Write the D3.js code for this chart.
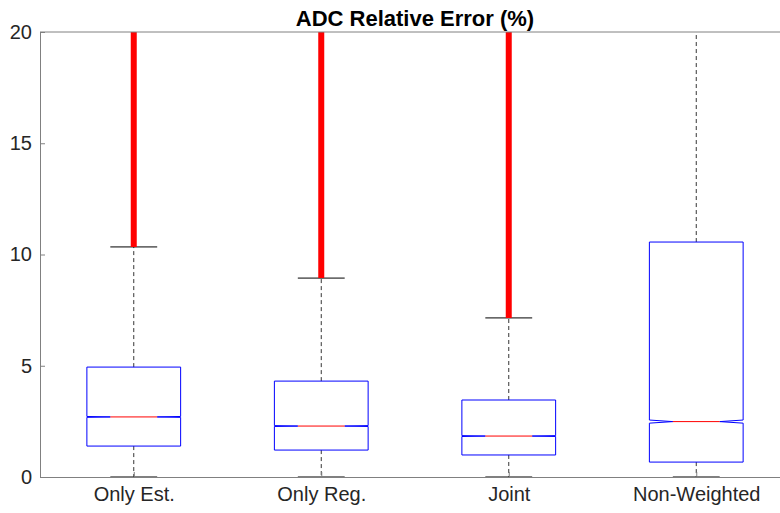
<!DOCTYPE html>
<html>
<head>
<meta charset="utf-8">
<script src="https://cdn.jsdelivr.net/npm/d3@7"></script>
<style>
  body { margin: 0; background: #fff; }
  svg { display: block; font-family: "Liberation Sans", Arial, sans-serif; }
</style>
</head>
<body>
<svg id="chart" width="780" height="513"></svg>
<script>
// categories and box statistics
const categories = ["Only Est.", "Only Reg.", "Joint", "Non-Weighted"];
const q1 = [1.39, 1.21, 0.99, 0.67];
const medians = [2.70, 2.29, 1.84, 2.49];
const q3 = [4.94, 4.31, 3.46, 10.56];
const whiskerLow = [0, 0, 0, 0];
const whiskerHigh = [10.34, 8.94, 7.15, 24];
const notchHalf = [0.02, 0.02, 0.02, 0.07];
// outliers are so dense they merge into a solid band: [from, to]
const outlierFrom = [10.34, 8.94, 7.15, null];
const outlierTo = [25, 25, 25, null];
const yTicks = [0, 5, 10, 15, 20];

const svg = d3.select("#chart");
const mLeft = 40, mRight = 790, mTop = 32, mBottom = 477;

const x = d3.scaleLinear().domain([0.5, 4.5]).range([mLeft, mRight]);
const y = d3.scaleLinear().domain([0, 20]).range([mBottom, mTop]);

// clip for plot contents
svg.append("defs").append("clipPath").attr("id", "clip")
  .append("rect").attr("x", mLeft).attr("y", mTop)
  .attr("width", mRight - mLeft).attr("height", mBottom - mTop);

const plot = svg.append("g").attr("clip-path", "url(#clip)");

const boxW = 0.5;
const data = categories.map((c, i) => ({
  c, i, pos: i + 1,
  q1: q1[i], med: medians[i], q3: q3[i],
  lo: whiskerLow[i], hi: whiskerHigh[i], n: notchHalf[i],
  oFrom: outlierFrom[i], oTo: outlierTo[i]
}));

// whiskers (dashed)
data.forEach(d => {
  plot.append("line")
    .attr("x1", x(d.pos)).attr("x2", x(d.pos))
    .attr("y1", y(d.q3)).attr("y2", y(d.hi))
    .attr("stroke", "#000").attr("stroke-width", 0.8)
    .attr("stroke-dasharray", "4,3");
  plot.append("line")
    .attr("x1", x(d.pos)).attr("x2", x(d.pos))
    .attr("y1", y(d.q1)).attr("y2", y(d.lo))
    .attr("stroke", "#000").attr("stroke-width", 0.8)
    .attr("stroke-dasharray", "4,3");
  // caps
  [d.lo, d.hi].forEach(v => {
    plot.append("line")
      .attr("x1", x(d.pos - boxW / 4)).attr("x2", x(d.pos + boxW / 4))
      .attr("y1", y(v)).attr("y2", y(v))
      .attr("stroke", "#000").attr("stroke-width", 1);
  });
});

// notched boxes
data.forEach(d => {
  const xl = x(d.pos - boxW / 2), xr = x(d.pos + boxW / 2);
  const xil = x(d.pos - boxW / 4), xir = x(d.pos + boxW / 4);
  const p = d3.path();
  p.moveTo(xl, y(d.q1));
  p.lineTo(xl, y(d.med - d.n));
  p.lineTo(xil, y(d.med));
  p.lineTo(xl, y(d.med + d.n));
  p.lineTo(xl, y(d.q3));
  p.lineTo(xr, y(d.q3));
  p.lineTo(xr, y(d.med + d.n));
  p.lineTo(xir, y(d.med));
  p.lineTo(xr, y(d.med - d.n));
  p.lineTo(xr, y(d.q1));
  p.closePath();
  plot.append("path").attr("d", p.toString())
    .attr("fill", "none").attr("stroke", "#0000ff").attr("stroke-width", 1);
  plot.append("line")
    .attr("x1", xil).attr("x2", xir)
    .attr("y1", y(d.med)).attr("y2", y(d.med))
    .attr("stroke", "#ff0000").attr("stroke-width", 1);
});

// outliers
data.filter(d => d.oFrom != null).forEach(d => {
  plot.append("line")
    .attr("x1", x(d.pos)).attr("x2", x(d.pos))
    .attr("y1", y(d.oFrom)).attr("y2", y(d.oTo))
    .attr("stroke", "#ff0000").attr("stroke-width", 6);
});

// axes
const axisColor = "#808080";
const yAxis = svg.append("g").attr("transform", `translate(${mLeft},0)`)
  .call(d3.axisLeft(y).tickValues(yTicks).tickSize(-5).tickPadding(8).tickFormat(d3.format("d")));
const xAxis = svg.append("g").attr("transform", `translate(0,${mBottom})`)
  .call(d3.axisBottom(x).tickValues([1, 2, 3, 4]).tickSize(-5).tickPadding(10)
    .tickFormat(d => categories[d - 1]));

[yAxis, xAxis].forEach(a => {
  a.select(".domain").attr("stroke", axisColor).attr("stroke-width", 1);
  a.selectAll(".tick line").attr("stroke", axisColor);
  a.selectAll(".tick text").attr("fill", "#262626")
    .style("font-size", "20px").style("font-family", "Liberation Sans, Arial, sans-serif");
});

// top border
svg.append("line").attr("x1", mLeft).attr("x2", mRight)
  .attr("y1", mTop).attr("y2", mTop).attr("stroke", axisColor);

// title
svg.append("text")
  .attr("x", (mLeft + mRight) / 2).attr("y", 26)
  .attr("text-anchor", "middle")
  .style("font-size", "22px").style("font-weight", "bold")
  .attr("fill", "#000")
  .text("ADC Relative Error (%)");
</script>
</body>
</html>
